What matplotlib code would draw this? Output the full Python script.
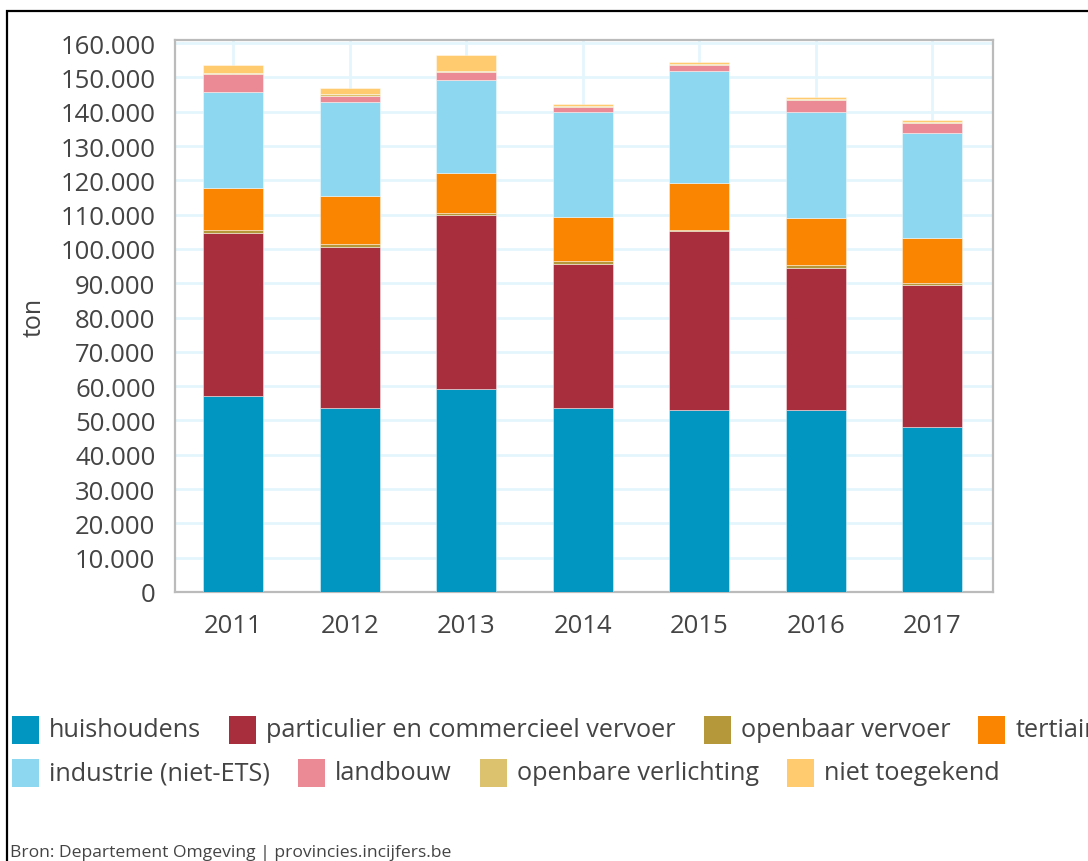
import matplotlib
matplotlib.use("Agg")
import matplotlib.pyplot as plt
from matplotlib.patches import Rectangle
from matplotlib.ticker import FuncFormatter, MultipleLocator
import numpy as np

years = ["2011", "2012", "2013", "2014", "2015", "2016", "2017"]
huishoudens = [57100, 53600, 59200, 53600, 53000, 53000, 48100]
particulier = [47500, 47000, 50700, 42100, 52200, 41500, 41400]
openbaar_vervoer = [1000, 800, 600, 900, 400, 800, 500]
tertiair = [12200, 14100, 11500, 12800, 13600, 13600, 13300]
industrie = [27800, 27200, 27300, 30400, 32600, 31000, 30500]
landbouw = [5400, 2000, 2200, 1600, 1800, 3400, 2900]
openbare_verlichting = [400, 400, 400, 400, 400, 400, 400]
niet_toegekend = [2200, 1900, 4600, 400, 400, 500, 500]

series_names = ["huishoudens", "particulier en commercieel vervoer", "openbaar vervoer",
                "tertiair", "industrie (niet-ETS)", "landbouw", "openbare verlichting",
                "niet toegekend"]
series_values = [huishoudens, particulier, openbaar_vervoer, tertiair, industrie,
                 landbouw, openbare_verlichting, niet_toegekend]
colors = ["#0096C1", "#A82E3E", "#B5983A", "#F98500", "#8DD8F0", "#EB8A94",
          "#DCC16E", "#FFCB6E"]

FONT = "Open Sans"
TXT = "#444444"
W, H = 1088, 862
fig = plt.figure(figsize=(W / 100, H / 100), dpi=100)
ax = fig.add_axes([175 / W, 1 - 593 / H, (993 - 175) / W, (593 - 41) / H])

x = np.arange(len(years))
bottom = np.zeros(len(years))
for name, vals, c in zip(series_names, series_values, colors):
    v = np.array(vals, dtype=float)
    ax.bar(x, v, bottom=bottom, width=0.515, color=c, edgecolor=(1, 1, 1, 0.5),
           linewidth=0.6, zorder=3, label=name)
    bottom += v

ax.set_xlim(-0.5, 6.52)
ax.set_ylim(0, 160900)
ax.yaxis.set_major_locator(MultipleLocator(10000))
ax.yaxis.set_major_formatter(FuncFormatter(lambda v, p: f"{int(v):,}".replace(",", ".")))
ax.set_xticks(x)
ax.set_xticklabels(years)
ax.tick_params(axis="both", length=0, labelsize=18.5, labelcolor=TXT)
ax.tick_params(axis="y", pad=14)
ax.tick_params(axis="x", pad=15)
for lab in ax.get_xticklabels() + ax.get_yticklabels():
    lab.set_fontfamily(FONT)
ax.grid(True, color="#E3F6FC", linewidth=2, zorder=0)
for s in ax.spines.values():
    s.set_color("#BBBBBB")
    s.set_linewidth(1.6)
ax.set_ylabel("ton", fontsize=18, color=TXT, family=FONT, labelpad=10)

# legend drawn as flowing rows
rows = [series_names[:4], series_names[4:]]
row_y = [731, 774]
renderer = fig.canvas.get_renderer()
idx = 0
for r, names in enumerate(rows):
    xp = 12
    for name in names:
        c = colors[idx]
        idx += 1
        fig.patches.append(Rectangle((xp / W, 1 - (row_y[r] + 14) / H), 27 / W, 28 / H,
                                     transform=fig.transFigure, facecolor=c,
                                     edgecolor="none"))
        t = fig.text((xp + 37) / W, 1 - row_y[r] / H, name, fontsize=18.2, family=FONT,
                     color=TXT, va="center", ha="left")
        bb = t.get_window_extent(renderer)
        xp = xp + 37 + bb.width + 28

fig.text(10 / W, 1 - 853 / H, "Bron: Departement Omgeving | provincies.incijfers.be",
         fontsize=12.6, family=FONT, color=TXT, va="center", ha="left")

# outer border (left and top visible)
fig.patches.append(Rectangle((7 / W, -0.05), 1.2, 1.05 - 12 / H, transform=fig.transFigure,
                             facecolor="none", edgecolor="black", linewidth=1.6))

fig.savefig("out.png", dpi=100)
